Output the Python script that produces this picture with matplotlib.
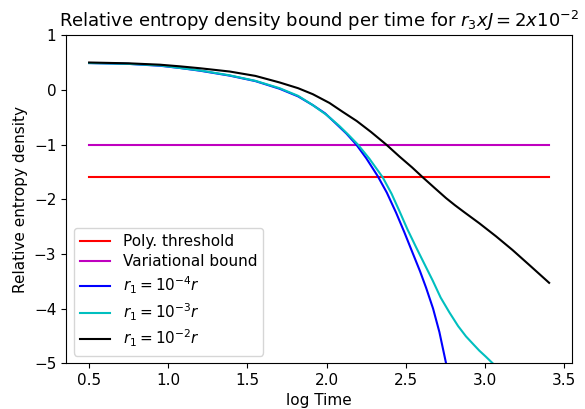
import matplotlib
matplotlib.use("Agg")
import matplotlib.pyplot as plt

# threshold lines
x_range = [0.5, 3.405]
poly_threshold = -1.6
variational_bound = -1.0

# r1 = 1e-4 r
x_b = [0.5, 0.75, 0.95, 1.073, 1.2, 1.388, 1.55, 1.703, 1.82, 1.913, 1.99, 2.06, 2.125, 2.187,
       2.25, 2.323, 2.38, 2.439, 2.49, 2.544, 2.59, 2.628, 2.672, 2.712, 2.754]
y_b = [0.49, 0.475, 0.44, 0.40, 0.35, 0.26, 0.16, 0.02, -0.12, -0.28, -0.43, -0.62, -0.80, -1.0,
       -1.25, -1.58, -1.88, -2.25, -2.60, -2.99, -3.32, -3.62, -4.0, -4.43, -5.0]

# r1 = 1e-3 r
x_c = [0.5, 0.75, 0.95, 1.073, 1.2, 1.388, 1.55, 1.703, 1.82, 1.913, 2.0, 2.08, 2.14, 2.197,
       2.27, 2.354, 2.41, 2.46, 2.51, 2.565, 2.62, 2.67, 2.72, 2.775, 2.83, 2.88, 2.925, 2.964, 3.005, 3.048]
y_c = [0.49, 0.475, 0.445, 0.40, 0.355, 0.265, 0.165, 0.03, -0.11, -0.28, -0.46, -0.66, -0.83, -1.0,
       -1.26, -1.60, -1.90, -2.22, -2.55, -2.88, -3.20, -3.49, -3.80, -4.07, -4.32, -4.51, -4.65, -4.77, -4.88, -5.0]

# r1 = 1e-2 r
x_k = [0.5, 0.75, 0.947, 1.073, 1.2, 1.388, 1.55, 1.703, 1.82, 1.913, 2.018, 2.1, 2.19, 2.28,
       2.376, 2.46, 2.54, 2.607, 2.68, 2.754, 2.81, 2.87, 2.964, 3.07, 3.174, 3.29, 3.405]
y_k = [0.5, 0.485, 0.46, 0.43, 0.395, 0.335, 0.255, 0.135, 0.03, -0.08, -0.24, -0.40, -0.57, -0.77,
       -1.0, -1.22, -1.42, -1.60, -1.79, -1.98, -2.11, -2.24, -2.44, -2.68, -2.93, -3.23, -3.53]

fig = plt.figure(figsize=(5.85, 4.09), dpi=100)
ax = fig.add_subplot(111)
fig.subplots_adjust(left=0.113, right=0.978, top=0.914, bottom=0.112)

ax.plot(x_range, [poly_threshold] * 2, color="r", label="Poly. threshold")
ax.plot(x_range, [variational_bound] * 2, color="m", label="Variational bound")
ax.plot(x_b, y_b, color="b", label=r"$r_1 = 10^{-4}r$")
ax.plot(x_c, y_c, color="c", label=r"$r_1 = 10^{-3}r$")
ax.plot(x_k, y_k, color="k", label=r"$r_1 = 10^{-2}r$")

ax.set_ylim(-5, 1)
ax.set_xticks([0.5, 1.0, 1.5, 2.0, 2.5, 3.0, 3.5])
ax.set_title(r"Relative entropy density bound per time for $r_3 xJ = 2x10^{-2}$", fontsize=13)
ax.set_xlabel("log Time", fontsize=11)
ax.set_ylabel("Relative entropy density", fontsize=11)
ax.tick_params(labelsize=11)
ax.legend(loc="lower left", fontsize=11, labelspacing=0.35)

fig.savefig("out.png", dpi=100)
